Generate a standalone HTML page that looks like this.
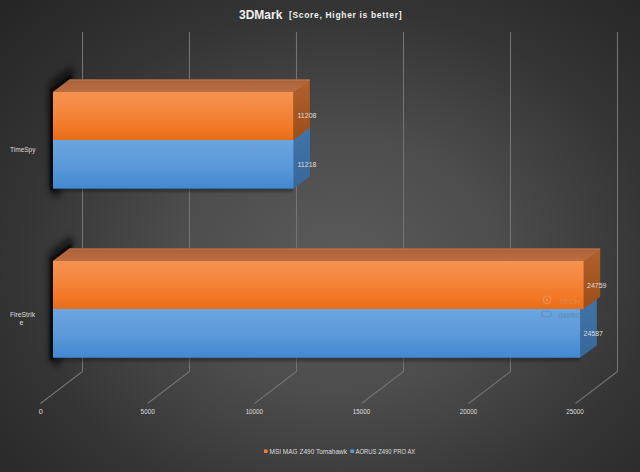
<!DOCTYPE html>
<html><head><meta charset="utf-8">
<style>
html,body{margin:0;padding:0;}
body{width:640px;height:472px;overflow:hidden;position:relative;
background:radial-gradient(ellipse 72% 78% at 53% 56%, #5b5b5b 0%, #4d4d4d 35%, #343434 70%, #262626 100%);
font-family:"Liberation Sans",sans-serif;}
svg{position:absolute;left:0;top:0;}
.t{fill:#dedede;font-family:"Liberation Sans",sans-serif;}
</style></head><body>
<svg width="640" height="472" viewBox="0 0 640 472">
<defs>
<linearGradient id="of" x1="0" y1="0" x2="0" y2="1">
<stop offset="0" stop-color="#f5924f"/><stop offset="0.3" stop-color="#f58a42"/><stop offset="0.75" stop-color="#f27826"/><stop offset="1" stop-color="#e86d18"/>
</linearGradient>
<linearGradient id="bf" x1="0" y1="0" x2="0" y2="1">
<stop offset="0" stop-color="#6ba5df"/><stop offset="0.5" stop-color="#5c9ada"/><stop offset="1" stop-color="#4388d2"/>
</linearGradient>
<filter id="blur" x="-50%" y="-50%" width="200%" height="200%"><feGaussianBlur stdDeviation="3"/></filter>
<linearGradient id="ot" x1="0" y1="0" x2="0" y2="1">
<stop offset="0" stop-color="#a9623c"/><stop offset="1" stop-color="#bb6d43"/>
</linearGradient>
<linearGradient id="os" x1="0" y1="0" x2="0" y2="1">
<stop offset="0" stop-color="#b0602c"/><stop offset="1" stop-color="#9b4f18"/>
</linearGradient>
<linearGradient id="bs" x1="0" y1="0" x2="0" y2="1">
<stop offset="0" stop-color="#4174a8"/><stop offset="1" stop-color="#38679a"/>
</linearGradient>
<filter id="b1" x="-5%" y="-100%" width="110%" height="300%"><feGaussianBlur stdDeviation="1.3"/></filter>
</defs>
<!-- gridlines -->
<g stroke="#737373" stroke-width="1.1" fill="none">
<polyline points="82.5,32 82.5,371.5 40.5,403.5"/>
<polyline points="189.5,32 189.5,371.5 147.5,403.5"/>
<polyline points="296.5,32 296.5,371.5 254.5,403.5"/>
<polyline points="403.5,32 403.5,371.5 361.5,403.5"/>
<polyline points="510.5,32 510.5,371.5 468.5,403.5"/>
<polyline points="617.5,32 617.5,371.5 575.5,403.5"/>
</g>
<!-- shadows -->
<filter id="b2" x="-100%" y="-50%" width="300%" height="200%"><feGaussianBlur stdDeviation="3"/></filter>
<filter id="b3" x="-100%" y="-50%" width="300%" height="200%"><feGaussianBlur stdDeviation="0.9"/></filter>
<g fill="#000" filter="url(#b2)" opacity="0.55">
<polygon points="54,92 71,79.5 75,74 71,66 52,80 48,88 49,188 52,196 60,197 62,188"/>
<polygon points="54,261 71,248.5 75,243 71,235 52,249 48,257 49,357 52,365 60,366 62,357"/>
</g>
<g fill="#000" filter="url(#b3)" opacity="0.8">
<polygon points="53,92 70,79.5 73,77 70,75.5 50.5,90 50,188.5 51,191 58,190 53,188.5"/>
<polygon points="53,261 70,248.5 73,246 70,244.5 50.5,259 50,357.5 51,360 58,359 53,357.5"/>
</g>
<g fill="#101418" opacity="0.4" filter="url(#b1)">
<rect x="53" y="187.5" width="240" height="4.5"/>
<rect x="53" y="356.5" width="527" height="5"/>
</g>
<!-- TimeSpy -->
<polygon points="53,188.4 53,140 69.5,127.6 309.9,127.6 309.9,176.0 293.4,188.4" fill="#3d6ea2"/>
<polygon points="293.4,140 309.9,127.6 309.9,176.0 293.4,188.4" fill="url(#bs)"/>
<rect x="53" y="140" width="240.40" height="48.40" fill="url(#bf)"/>
<polygon points="53,140 53,92 69.5,79.6 309.7,79.6 309.7,127.6 293.2,140" fill="#a65a26"/>
<polygon points="53,92 69.5,79.6 309.7,79.6 293.2,92" fill="url(#ot)"/>
<polygon points="293.2,92 309.7,79.6 309.7,127.6 293.2,140" fill="url(#os)"/>
<rect x="53" y="92" width="240.20" height="48.00" fill="url(#of)"/>
<polyline points="69.5,80.1 309.2,80.1" stroke="#d08a5a" stroke-width="0.8" opacity="0.6" fill="none"/>
<polyline points="293.2,92 309.7,79.6" stroke="#c88050" stroke-width="0.8" opacity="0.5" fill="none"/>
<!-- FireStrike -->
<polygon points="53,357.6 53,309 69.5,296.6 596.6,296.6 596.6,345.20000000000005 580.1,357.6" fill="#3d6ea2"/>
<polygon points="580.1,309 596.6,296.6 596.6,345.20000000000005 580.1,357.6" fill="url(#bs)"/>
<rect x="53" y="309" width="527.10" height="48.60" fill="url(#bf)"/>
<polygon points="53,309 53,261 69.5,248.6 600.1,248.6 600.1,296.6 583.6,309" fill="#a65a26"/>
<polygon points="53,261 69.5,248.6 600.1,248.6 583.6,261" fill="url(#ot)"/>
<polygon points="583.6,261 600.1,248.6 600.1,296.6 583.6,309" fill="url(#os)"/>
<rect x="53" y="261" width="530.60" height="48.00" fill="url(#of)"/>
<polyline points="69.5,249.1 599.6,249.1" stroke="#d08a5a" stroke-width="0.8" opacity="0.6" fill="none"/>
<polyline points="583.6,261 600.1,248.6" stroke="#c88050" stroke-width="0.8" opacity="0.5" fill="none"/>
<!-- watermark -->
<g opacity="0.8">
<circle cx="547" cy="299.8" r="3.8" fill="none" stroke="#d8c0b0" stroke-width="1.1" opacity="0.45"/>
<circle cx="547" cy="299.8" r="1.6" fill="#e0c8b8" opacity="0.35"/>
<text x="559" y="304" font-size="7.5" font-weight="bold" fill="#c8a890" opacity="0.35" textLength="21" lengthAdjust="spacingAndGlyphs">TECH</text>
<ellipse cx="546.5" cy="314" rx="5" ry="3" fill="none" stroke="#5a7090" stroke-width="1.2" opacity="0.45"/>
<text x="558.5" y="318" font-size="7" font-weight="bold" fill="#586e8c" opacity="0.5" textLength="23" lengthAdjust="spacingAndGlyphs">GAMING</text>
</g>
<!-- labels -->
<g class="t" font-size="7">
<text x="297.5" y="118">11208</text>
<text x="297.5" y="166.5">11218</text>
<text x="587" y="287.5">24759</text>
<text x="583.5" y="336">24587</text>
<text x="10" y="152" textLength="25.5" lengthAdjust="spacingAndGlyphs">TimeSpy</text>
<text x="10" y="316.5" textLength="25" lengthAdjust="spacingAndGlyphs">FireStrik</text>
<text x="19.5" y="325">e</text>
<g font-size="7.3">
<text x="40.8" y="414" text-anchor="middle">0</text>
<text x="147.7" y="414" text-anchor="middle" textLength="14.2" lengthAdjust="spacingAndGlyphs">5000</text>
<text x="254.3" y="414" text-anchor="middle" textLength="17.3" lengthAdjust="spacingAndGlyphs">10000</text>
<text x="361.5" y="414" text-anchor="middle" textLength="17.5" lengthAdjust="spacingAndGlyphs">15000</text>
<text x="468.4" y="414" text-anchor="middle" textLength="17.5" lengthAdjust="spacingAndGlyphs">20000</text>
<text x="575.1" y="414" text-anchor="middle" textLength="17.6" lengthAdjust="spacingAndGlyphs">25000</text>
</g>
<text x="269.5" y="453.5" textLength="77.5" lengthAdjust="spacingAndGlyphs">MSI MAG Z490 Tomahawk</text>
<text x="355.5" y="453.5" textLength="59.8" lengthAdjust="spacingAndGlyphs">AORUS Z490 PRO AX</text>
</g>
<rect x="264" y="449.5" width="3.6" height="3.5" fill="#ed7d31"/>
<rect x="350.3" y="449.5" width="3.8" height="3.5" fill="#5b9bd5"/>
<g class="t" font-weight="bold" style="fill:#f0f0f0">
<text x="239" y="18.5" font-size="12">3DMark</text>
<text x="289" y="18.3" font-size="8.5" textLength="112.5" lengthAdjust="spacing">[Score, Higher is better]</text>
</g>
</svg>
</body></html>
